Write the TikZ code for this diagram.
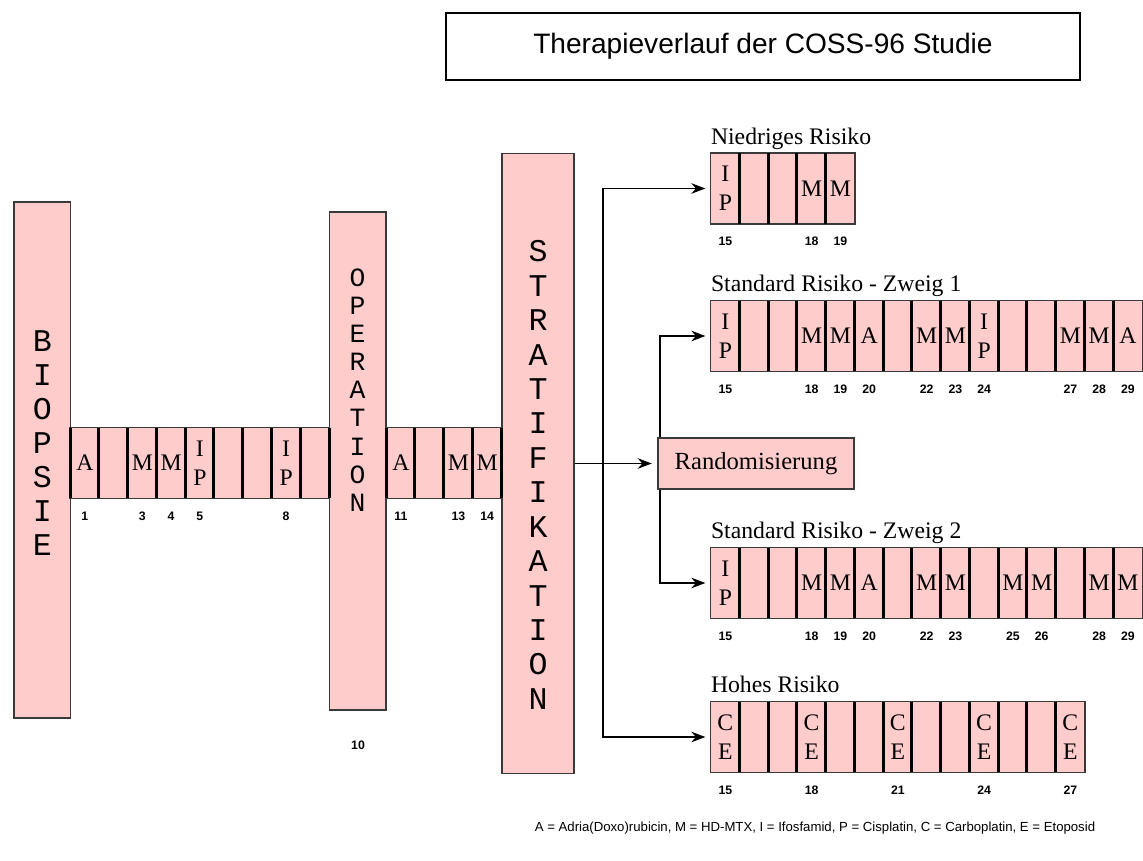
\documentclass[tikz,border=0pt]{standalone}
\usepackage{fontspec}
\setmainfont{Liberation Serif}
\setsansfont{Liberation Sans}
\setmonofont{Liberation Mono}
\usepackage{tikz}
\usetikzlibrary{arrows.meta,positioning,calc}
\definecolor{rosa}{HTML}{FFCCCC}
\definecolor{rand}{HTML}{3A3A3A}

\begin{document}
\begin{tikzpicture}[
  x=0.02cm,y=-0.02cm,
  balken/.style={draw=rand,line width=0.8pt,fill=rosa,inner sep=0pt},
  buchstaben/.style={align=center,inner sep=0pt,font=\ttfamily\fontsize{18}{19.4}\selectfont},
  zelle/.style={fill=rosa,inner sep=0pt,minimum width=0.575cm,minimum height=1.4cm,align=center,font=\fontsize{13.5}{16.5}\selectfont},
  woche/.style={inner sep=0pt,label distance=7.5pt,font=\sffamily\bfseries\fontsize{7}{8}\selectfont},
  rahmen/.style={draw=rand,line width=0.8pt},
  trenner/.style={draw=black,line width=1.8pt},
  risiko/.style={anchor=base west,inner sep=0pt,font=\fontsize{13.5}{16}\selectfont},
  pfeil/.style={-{Stealth[length=8pt,width=6pt]},line width=0.9pt,shorten >=3pt}
]
\useasboundingbox (0,0) rectangle (1143,861);

% Titel
\node[draw,line width=0.9pt,minimum width=12.68cm,minimum height=1.34cm,font=\sffamily\fontsize{16}{19}\selectfont] (titel) at (763,46.5) {Therapieverlauf der COSS-96 Studie};

% grosse Balken
\node[balken,minimum width=1.13cm,minimum height=10.32cm] (biopsie) at (42.25,460) {};
\node[buchstaben] (biopsietext) at (42.25,443) {B\\I\\O\\P\\S\\I\\E};
\node[balken,minimum width=1.135cm,minimum height=9.96cm] (op) at (357.6,461) {};
\node[buchstaben,font=\ttfamily\fontsize{15}{16}\selectfont] (optext) at (357.6,390) {O\\P\\E\\R\\A\\T\\I\\O\\N};
\node[woche] (optag) at (358,745) {10};
\node[balken,minimum width=1.44cm,minimum height=12.4cm] (strat) at (538,463.5) {};
\node[buchstaben,font=\ttfamily\fontsize{18}{19.6}\selectfont] (strattext) at (538,475) {S\\T\\R\\A\\T\\I\\F\\I\\K\\A\\T\\I\\O\\N};

% Wochen vor der Operation
\foreach \lab/\nr [count=\i] in {A/1,/,M/3,M/4,{I\\P}/5,/,/,{I\\P}/8,/}
  \node[zelle,label={[woche]below:\nr}] (vo\i) at ({70.5+(\i-0.5)*28.75},463) {\lab};
\draw[rahmen] (vo1.north west) rectangle (vo9.south east);
\foreach \i in {1,...,9} \draw[trenner] (vo\i.north west) -- (vo\i.south west);
\draw[trenner] (vo9.north east) -- (vo9.south east);

% Wochen nach der Operation
\foreach \lab/\nr [count=\i] in {A/11,/,M/13,M/14}
  \node[zelle,label={[woche]below:\nr}] (no\i) at ({386.5+(\i-0.5)*28.75},463) {\lab};
\draw[rahmen] (no1.north west) rectangle (no4.south east);
\foreach \i in {1,...,4} \draw[trenner] (no\i.north west) -- (no\i.south west);
\draw[trenner] (no4.north east) -- (no4.south east);

% Randomisierung
\node[draw=rand,line width=1.1pt,fill=rosa,minimum width=3.92cm,minimum height=1.02cm,font=\fontsize{14}{16}\selectfont] (random) at (756,463.5) {Randomisierung};

% Niedriges Risiko
\foreach \lab/\nr [count=\i] in {{I\\P}/15,/,/,M/18,M/19}
  \node[zelle,label={[woche]below:\nr}] (nr\i) at ({711+(\i-0.5)*28.75},188.5) {\lab};
\draw[rahmen] (nr1.north west) rectangle (nr5.south east);
\foreach \i in {2,...,5} \draw[trenner] (nr\i.north west) -- (nr\i.south west);
\node[risiko] (nrtext) at ($(nr1.north west)+(0,-9)$) {Niedriges Risiko};

% Standard Risiko - Zweig 1
\foreach \lab/\nr [count=\i] in {{I\\P}/15,/,/,M/18,M/19,A/20,/,M/22,M/23,{I\\P}/24,/,/,M/27,M/28,A/29}
  \node[zelle,label={[woche]below:\nr}] (za\i) at ({711+(\i-0.5)*28.75},336) {\lab};
\draw[rahmen] (za1.north west) rectangle (za15.south east);
\foreach \i in {2,...,15} \draw[trenner] (za\i.north west) -- (za\i.south west);
\node[risiko] (zatext) at ($(za1.north west)+(0,-9)$) {Standard Risiko - Zweig 1};

% Standard Risiko - Zweig 2
\foreach \lab/\nr [count=\i] in {{I\\P}/15,/,/,M/18,M/19,A/20,/,M/22,M/23,/,M/25,M/26,/,M/28,M/29}
  \node[zelle,label={[woche]below:\nr}] (zb\i) at ({711+(\i-0.5)*28.75},583) {\lab};
\draw[rahmen] (zb1.north west) rectangle (zb15.south east);
\foreach \i in {2,...,15} \draw[trenner] (zb\i.north west) -- (zb\i.south west);
\node[risiko] (zbtext) at ($(zb1.north west)+(0,-9)$) {Standard Risiko - Zweig 2};

% Hohes Risiko
\foreach \lab/\nr [count=\i] in {{C\\E}/15,/,/,{C\\E}/18,/,/,{C\\E}/21,/,/,{C\\E}/24,/,/,{C\\E}/27}
  \node[zelle,label={[woche]below:\nr}] (hr\i) at ({711+(\i-0.5)*28.75},737) {\lab};
\draw[rahmen] (hr1.north west) rectangle (hr13.south east);
\foreach \i in {2,...,13} \draw[trenner] (hr\i.north west) -- (hr\i.south west);
\node[risiko] (hrtext) at ($(hr1.north west)+(0,-9)$) {Hohes Risiko};

% Pfeile
\coordinate (gabel) at (603,463.5);
\draw[pfeil] (strat.east) -- (random.west);
\draw[pfeil] (gabel) |- (nr1.west);
\draw[pfeil] (gabel) |- (hr1.west);
\draw[pfeil] ($(random.north west)+(3,0)$) |- (za1.west);
\draw[pfeil] ($(random.south west)+(3,0)$) |- (zb1.west);

% Legende
\node[font=\sffamily\fontsize{7.5}{9}\selectfont] (legende) at (815,828) {A = Adria(Doxo)rubicin, M = HD-MTX, I = Ifosfamid, P = Cisplatin, C = Carboplatin, E = Etoposid};
\end{tikzpicture}
\end{document}
